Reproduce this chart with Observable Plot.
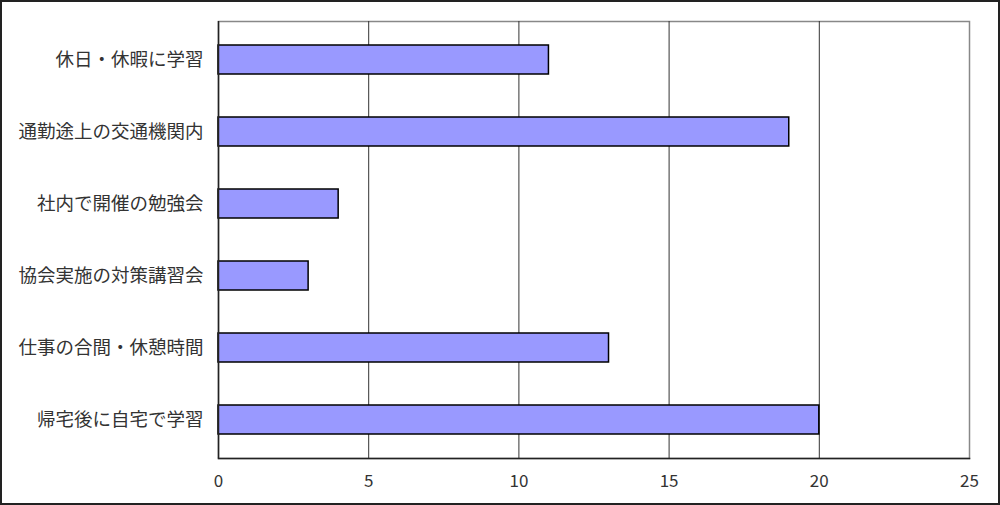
<!DOCTYPE html>
<html><head><meta charset="utf-8">
<script src="https://cdn.jsdelivr.net/npm/d3@7"></script>
<script src="https://cdn.jsdelivr.net/npm/@observablehq/plot@0.6"></script>
<style>
body{margin:0;background:#fff;}
#chart svg{display:block;outline:2px solid #222;outline-offset:-2px;}
</style></head>
<body><div id="chart"></div>
<script>
const categories = ["休日・休暇に学習","通勤途上の交通機関内","社内で開催の勉強会","協会実施の対策講習会","仕事の合間・休憩時間","帰宅後に自宅で学習"];
const values = [11, 19, 4, 3, 13, 20];
const xTicks = [0, 5, 10, 15, 20, 25];
const gridTicks = [5, 10, 15, 20];

const data = categories.map((c, i) => ({category: c, value: values[i]}));

const chart = Plot.plot({
  width: 1000, height: 505,
  marginLeft: 218, marginRight: 31, marginTop: 21, marginBottom: 47,
  style: {fontFamily: "'Noto Sans CJK JP', sans-serif", fontSize: "17px", color: "#333", background: "#fff"},
  x: {domain: [0, 25], ticks: xTicks, tickSize: 0, tickPadding: 16, label: null},
  y: {domain: categories, paddingInner: 0.6, paddingOuter: 0.3, tickSize: 0, tickPadding: 15, label: null},
  marks: [
    Plot.frame({stroke: "#888", strokeWidth: 1.5}),
    Plot.ruleX(gridTicks, {stroke: "#333", strokeWidth: 1}),
    Plot.barX(data, {x: "value", y: "category", fill: "#9999ff", stroke: "#000", strokeWidth: 1.5}),
    Plot.ruleX([0], {stroke: "#222", strokeWidth: 1.5}),
    Plot.frame({anchor: "bottom", stroke: "#222", strokeWidth: 1.5}),
    Plot.axisY({tickSize: 0, tickPadding: 15, fontSize: 18.5, label: null}),
    Plot.axisX({ticks: xTicks, tickSize: 0, tickPadding: 16, fontSize: 17, label: null})
  ]
});
document.getElementById("chart").append(chart);
</script></body></html>
